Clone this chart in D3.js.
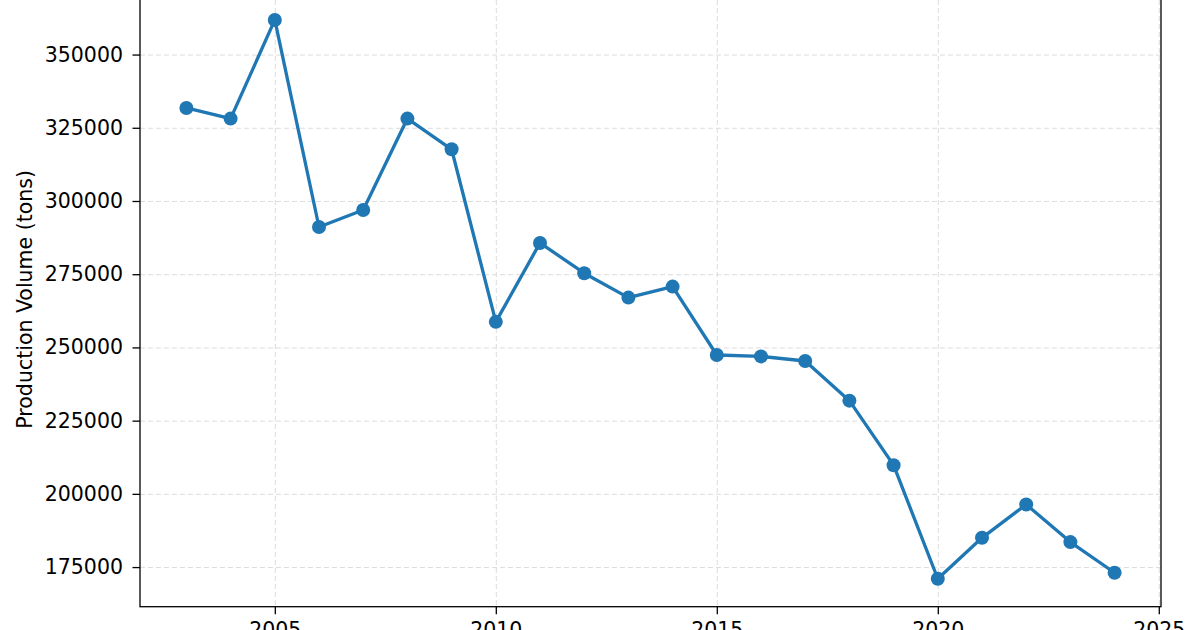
<!DOCTYPE html>
<html>
<head>
<meta charset="utf-8">
<script src="https://cdn.jsdelivr.net/npm/d3@7"></script>
<style>
  body { margin: 0; background: #fff; }
  svg { display: block; font-family: "DejaVu Sans", sans-serif; }
  .grid line { stroke: #dcdcdc; stroke-dasharray: 5,3; stroke-width: 1; }
  .grid path { display: none; }
</style>
</head>
<body>
<div class="chart"></div>
<script>

// Production volume per year
var years = [2003, 2004, 2005, 2006, 2007, 2008, 2009, 2010, 2011, 2012, 2013,
  2014, 2015, 2016, 2017, 2018, 2019, 2020, 2021, 2022, 2023, 2024];
var volumes = [331760, 328140, 361820, 291120, 296930, 328140, 317660, 258730,
  285680, 275340, 267020, 270770, 247410, 246930, 245360, 231820, 209790,
  171010, 184990, 196380, 183530, 173060];

var xTicks = [2005, 2010, 2015, 2020, 2025];
var yTicks = [175000, 200000, 225000, 250000, 275000, 300000, 325000, 350000];
var yLabel = 'Production Volume (tons)';

var width = 1200;
var height = 630;
// the top of the axes sits just above the picture, like the reference crop
var margin = { top: -8, right: 39, bottom: 23.3, left: 140 };
var innerW = width - margin.left - margin.right;
var innerH = height - margin.top - margin.bottom;

var svg = d3.select('.chart').append('svg')
  .attr('width', width)
  .attr('height', height);

var g = svg.append('g')
  .attr('transform', 'translate(' + margin.left + ',' + margin.top + ')');

// matplotlib style 5% padding around the data
var padded = function(lo, hi) {
  var pad = (hi - lo) * 0.05;
  return [lo - pad, hi + pad];
};

var xScale = d3.scaleLinear()
  .domain(padded(d3.min(years), d3.max(years)))
  .range([0, innerW]);
var yScale = d3.scaleLinear()
  .domain(padded(d3.min(volumes), d3.max(volumes)))
  .range([innerH, 0]);

// dashed grid
g.append('g')
  .attr('class', 'grid')
  .call(d3.axisBottom(xScale).tickValues(xTicks).tickSize(innerH).tickFormat(''))
  .selectAll('.tick')
  .filter(function(d) { return xScale(d) > innerW - 0.5; })
  .remove();
g.append('g')
  .attr('class', 'grid')
  .call(d3.axisLeft(yScale).tickValues(yTicks).tickSize(-innerW).tickFormat(''));

// axes
var fontSize = 20.5;

var xAxis = g.append('g')
  .attr('transform', 'translate(0,' + innerH + ')')
  .call(d3.axisBottom(xScale).tickValues(xTicks).tickSize(7.5).tickPadding(7.8)
    .tickFormat(d3.format('d')));

var yAxis = g.append('g')
  .call(d3.axisLeft(yScale).tickValues(yTicks).tickSize(7.5).tickPadding(9.5)
    .tickFormat(d3.format('d')));

[xAxis, yAxis].forEach(function(ax) {
  ax.select('.domain').remove();
  ax.selectAll('.tick line').attr('stroke', '#000').attr('stroke-width', 1.3);
  ax.selectAll('.tick text')
    .attr('fill', '#000')
    .style('font-size', fontSize + 'px')
    .style('font-family', '"DejaVu Sans", sans-serif');
});

// spines
g.append('rect')
  .attr('x', 0)
  .attr('y', 0)
  .attr('width', innerW)
  .attr('height', innerH)
  .attr('fill', 'none')
  .attr('stroke', '#000')
  .attr('stroke-width', 1.3);

// the line and its markers
var line = d3.line()
  .x(function(d, i) { return xScale(years[i]); })
  .y(function(d) { return yScale(d); });

g.append('path')
  .datum(volumes)
  .attr('d', line)
  .attr('fill', 'none')
  .attr('stroke', '#1f77b4')
  .attr('stroke-width', 3.3)
  .attr('stroke-linejoin', 'round');

g.selectAll('circle')
  .data(volumes)
  .enter()
  .append('circle')
    .attr('cx', function(d, i) { return xScale(years[i]); })
    .attr('cy', function(d) { return yScale(d); })
    .attr('r', 7)
    .attr('fill', '#1f77b4');

// y label
svg.append('text')
  .attr('transform', 'translate(32,' + (margin.top + innerH / 2) + ') rotate(-90)')
  .attr('text-anchor', 'middle')
  .style('font-size', fontSize + 'px')
  .attr('fill', '#000')
  .text(yLabel);

</script>
</body>
</html>
